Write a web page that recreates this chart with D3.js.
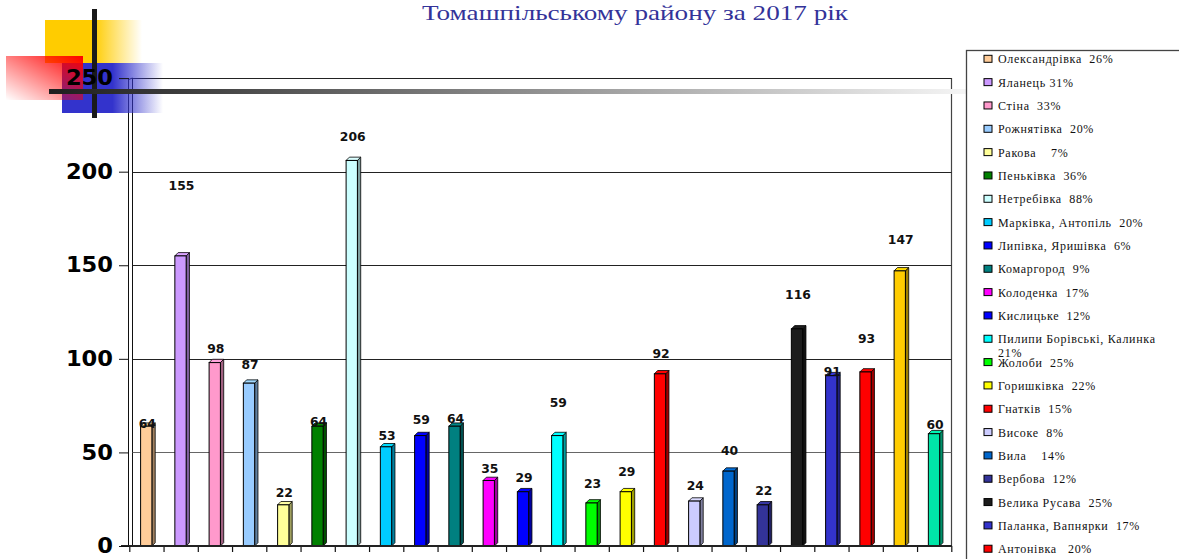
<!DOCTYPE html>
<html>
<head>
<meta charset="utf-8">
<script src="https://cdn.jsdelivr.net/npm/d3@7"></script>
<style>
  html, body { margin: 0; padding: 0; background: #fff; }
  svg { display: block; }
</style>
</head>
<body>
<svg id="chart" width="1179" height="559"></svg>
<script>
// ---------- DATA ----------
const titleText = "Томашпільському району за 2017 рік";
const values = [64, 155, 98, 87, 22, 64, 206, 53, 59, 64, 35, 29, 59, 23, 29, 92, 24, 40, 22, 116, 91, 93, 147, 60];
const legendLabels = [
  "Олександрівка  26%", "Яланець 31%", "Стіна  33%", "Рожнятівка  20%", "Ракова    7%",
  "Пеньківка  36%", "Нетребівка  88%", "Марківка, Антопіль  20%", "Липівка, Яришівка  6%",
  "Комаргород  9%", "Колоденка  17%", "Кислицьке  12%", "Пилипи Борівські, Калинка 21%",
  "Жолоби  25%", "Горишківка  22%", "Гнатків  15%", "Високе  8%", "Вила    14%",
  "Вербова  12%", "Велика Русава  25%", "Паланка, Вапнярки  17%", "Антонівка   20%"
];
const yTicks = [0, 50, 100, 150, 200, 250];

// ---------- STYLE ----------
const palette = ["#FFCC99", "#CC99FF", "#FF99CC", "#99CCFF", "#FFFF99", "#008000", "#CCFFFF", "#00CCFF",
  "#0000FF", "#008080", "#FF00FF", "#0000FF", "#00FFFF", "#00FF00", "#FFFF00", "#FF0000",
  "#CCCCFF", "#0066CC", "#333399", "#1C1C1C", "#3333CC", "#FF0000", "#FFCC00", "#00E6A8"];
// label lift above each bar top (px), as placed in the original
const labelGaps = [3, 70, 14, 19, 12, 5, 23.5, 11, 16, 8, 11.5, 14, 33, 19, 20, 20, 16, 21, 14, 34, 4, 33, 31, 9];

const svg = d3.select("#chart");
const defs = svg.append("defs");

// ---------- DECORATION (top-left) ----------
function hGrad(id, color, solidTo) {
  const g = defs.append("linearGradient").attr("id", id).attr("x1", 0).attr("y1", 0).attr("x2", 1).attr("y2", 0);
  g.append("stop").attr("offset", "0%").attr("stop-color", color).attr("stop-opacity", 1);
  g.append("stop").attr("offset", solidTo).attr("stop-color", color).attr("stop-opacity", 1);
  g.append("stop").attr("offset", "100%").attr("stop-color", color).attr("stop-opacity", 0);
}
hGrad("gY", "#FFCC00", "50%");
hGrad("gB", "#3333CC", "50%");
const gR = defs.append("linearGradient").attr("id", "gR").attr("x1", 1).attr("y1", 0).attr("x2", 0).attr("y2", 1);
gR.append("stop").attr("offset", "0%").attr("stop-color", "#FF0000").attr("stop-opacity", 1);
gR.append("stop").attr("offset", "100%").attr("stop-color", "#FF0000").attr("stop-opacity", 0);
const gL = defs.append("linearGradient").attr("id", "gL").attr("x1", 0).attr("y1", 0).attr("x2", 1).attr("y2", 0);
gL.append("stop").attr("offset", "0%").attr("stop-color", "#1e1e1e");
gL.append("stop").attr("offset", "100%").attr("stop-color", "#ffffff");

const deco = svg.append("g");
deco.append("rect").attr("x", 45).attr("y", 20).attr("width", 97).attr("height", 43).attr("fill", "url(#gY)");
deco.append("rect").attr("x", 62).attr("y", 63).attr("width", 101).attr("height", 50).attr("fill", "url(#gB)");
deco.append("rect").attr("x", 6).attr("y", 56).attr("width", 77).attr("height", 44).attr("fill", "url(#gR)");

// ---------- TITLE ----------
svg.append("text").attr("x", 635).attr("y", 20).attr("text-anchor", "middle")
  .attr("font-family", "'Liberation Serif', 'Times New Roman', serif").attr("font-size", 22)
  .attr("fill", "#333399").attr("textLength", 426).attr("lengthAdjust", "spacingAndGlyphs")
  .text(titleText);

// ---------- CHART ----------
const x0 = 129.3, x1 = 951.3, yBase = 546, yTop = 78.1;
const y = d3.scaleLinear().domain([0, 250]).range([yBase, yTop]);
const xb = d3.scaleBand().domain(d3.range(values.length)).range([x0, x1]).padding(0);
const xl = d3.scaleLinear().domain([0, values.length]).range([x0, x1]);
const bw = xb.bandwidth();
const frontW = bw * 0.33, depth = 3.3;

const plot = svg.append("g");
// back wall frame
plot.append("line").attr("x1", 128.5).attr("x2", 128.5).attr("y1", 79).attr("y2", yBase).attr("stroke", "#111").attr("stroke-width", 1);
plot.append("line").attr("x1", 132.5).attr("x2", 132.5).attr("y1", 78).attr("y2", yBase).attr("stroke", "#111").attr("stroke-width", 1);
plot.append("line").attr("x1", 128.5).attr("x2", 132.5).attr("y1", 79.5).attr("y2", 78).attr("stroke", "#111");
plot.append("line").attr("x1", 951.5).attr("x2", 951.5).attr("y1", 78).attr("y2", yBase).attr("stroke", "#444").attr("stroke-width", 1.2);
// gridlines
plot.selectAll("line.grid").data(yTicks.filter(t => t > 0)).enter().append("line")
  .attr("class", "grid")
  .attr("x1", 132.5).attr("x2", 951.5)
  .attr("y1", d => Math.round(y(d)) + 0.5).attr("y2", d => Math.round(y(d)) + 0.5)
  .attr("stroke", d => d === 50 ? "#666" : "#222").attr("stroke-width", 1.1);

// y axis
const yAxis = d3.axisLeft(y).tickValues(yTicks).tickSize(10).tickPadding(6);
const gy = svg.append("g").attr("transform", "translate(129,0)").call(yAxis);
gy.select(".domain").remove();
gy.selectAll(".tick line").attr("stroke", "#111");
gy.selectAll(".tick text")
  .attr("font-family", "'DejaVu Sans', Verdana, sans-serif").attr("font-weight", "bold")
  .attr("font-size", 21).attr("fill", "#000")
  .attr("textLength", d => String(d).length * 15.7).attr("lengthAdjust", "spacingAndGlyphs");

// bars (pseudo-3D)
const bars = plot.selectAll("g.bar").data(values).enter().append("g").attr("class", "bar");
bars.each(function (v, i) {
  const g = d3.select(this);
  const bx = xb(i) + bw * 0.33;
  const top = y(v);
  const c = d3.color(palette[i]);
  const side = c.darker(1.3).formatHex();
  const topc = c.brighter(0.2).formatHex();
  g.append("path")
    .attr("d", `M${bx + frontW},${top} L${bx + frontW + depth},${top - depth} L${bx + frontW + depth},${yBase - depth} L${bx + frontW},${yBase} Z`)
    .attr("fill", side).attr("stroke", "#000").attr("stroke-width", 0.8);
  g.append("path")
    .attr("d", `M${bx},${top} L${bx + depth},${top - depth} L${bx + frontW + depth},${top - depth} L${bx + frontW},${top} Z`)
    .attr("fill", topc).attr("stroke", "#000").attr("stroke-width", 0.8);
  g.append("rect").attr("x", bx).attr("y", top).attr("width", frontW).attr("height", yBase - top)
    .attr("fill", palette[i]).attr("stroke", "#000").attr("stroke-width", 1);
});

// x axis (category boundaries)
const xAxis = d3.axisBottom(xl).tickValues(d3.range(values.length + 1)).tickSize(6).tickFormat("");
const gx = svg.append("g").attr("transform", `translate(0,${yBase})`).call(xAxis);
gx.select(".domain").remove();
gx.selectAll(".tick line").attr("stroke", "#111").attr("stroke-width", 1.2);
svg.append("line").attr("x1", 121).attr("x2", 952).attr("y1", yBase).attr("y2", yBase)
  .attr("stroke", "#222").attr("stroke-width", 2.2);

// data labels
plot.selectAll("text.val").data(values).enter().append("text")
  .attr("class", "val")
  .attr("x", (d, i) => xb(i) + bw * 0.33 + frontW / 2 + 1)
  .attr("y", (d, i) => y(d) - labelGaps[i] + 4.5)
  .attr("text-anchor", "middle")
  .attr("font-family", "'DejaVu Sans', Verdana, sans-serif").attr("font-weight", "bold")
  .attr("font-size", 12.5).attr("fill", "#111")
  .attr("textLength", d => String(d).length * 8.6).attr("lengthAdjust", "spacingAndGlyphs")
  .text(d => d);

// decorative lines on top
deco.raise();
svg.append("rect").attr("x", 92).attr("y", 9).attr("width", 5).attr("height", 109).attr("fill", "#1a1a1a");
svg.append("rect").attr("x", 49).attr("y", 89).attr("width", 961).attr("height", 5).attr("fill", "url(#gL)");
gy.raise();

// ---------- LEGEND ----------
const legend = svg.append("g");
legend.append("rect").attr("x", 966.5).attr("y", 50.5).attr("width", 240).attr("height", 600)
  .attr("fill", "#fff").attr("stroke", "#444").attr("stroke-width", 1.3);
const rowH = 23.33, row0 = 59.3;
legendLabels.forEach((lab, i) => {
  const cy = row0 + i * rowH;
  legend.append("rect").attr("x", 984).attr("y", cy - 4).attr("width", 8).attr("height", 7)
    .attr("fill", palette[i]).attr("stroke", "#000").attr("stroke-width", 1);
  const t = legend.append("text").attr("x", 998).attr("y", cy + 4)
    .attr("font-family", "'Liberation Serif', 'Times New Roman', serif").attr("font-size", 12)
    .attr("letter-spacing", 0.7).attr("fill", "#111").style("white-space", "pre");
  t.text(lab);
  if (t.node().getComputedTextLength() > 172) {
    const words = lab.split(" ");
    const last = words.pop();
    t.text(null);
    t.append("tspan").attr("x", 998).text(words.join(" "));
    t.append("tspan").attr("x", 998).attr("dy", 13.5).text(last);
  }
});
</script>
</body>
</html>
